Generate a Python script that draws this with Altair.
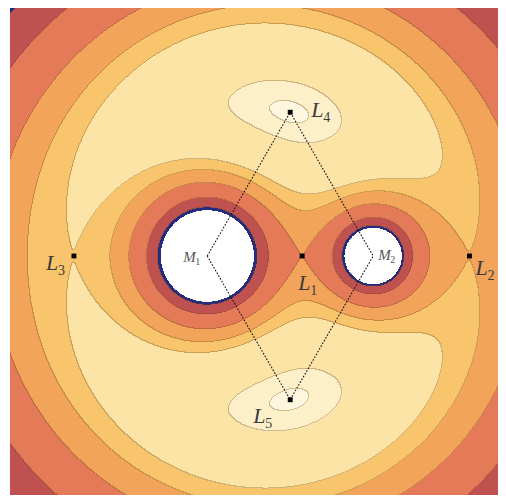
import numpy as np
import pandas as pd
import altair as alt

alt.data_transformers.disable_max_rows()

# ---- data ----
MU = 0.33                      # mass ratio M2/(M1+M2)
LEVELS = [-2.84, -2.70, -2.33, -1.972, -1.774, -1.659, -1.425, -1.394]
BANDS = ["navy", "darkred", "coral", "orange", "lightorange", "pale", "cream", "lightest"]
BAND_COLORS = ["#252b7e", "#bf5250", "#e57a58", "#f2a45a", "#f8c46c", "#fce3a6", "#fdf0c9", "#fef6de"]

L_NAMES = ["1", "2", "3", "4", "5"]
L_X = [0.242, 1.250, -1.133, 0.170, 0.170]
L_Y = [0.0, 0.0, 0.0, 0.866, -0.866]
M_NAMES = ["1", "2"]
M_X = [-0.33, 0.67]
M_Y = [0.0, 0.0]

X_DOMAIN = [-1.518, 1.470]
Y_DOMAIN = [-1.488, 1.518]
W, H = 496, 499

# ---- effective potential field on a pixel grid ----
x0, x1 = X_DOMAIN
y0, y1 = Y_DOMAIN
dx = (x1 - x0) / W
dy = (y1 - y0) / H
xs = x0 + (np.arange(W) + 0.5) * dx
ys = y1 - (np.arange(H) + 0.5) * dy
XX, YY = np.meshgrid(xs, ys)
r1 = np.hypot(XX + MU, YY)
r2 = np.hypot(XX - (1 - MU), YY)
phi = -(1 - MU) / r1 - MU / r2 - 0.5 * (XX ** 2 + YY ** 2)
band = np.digitize(phi, LEVELS)  # 0 -> inside bodies (left white)

fill_rows = []
edge_rows = []
edge = np.zeros_like(band, dtype=bool)
h = (band[:, :-1] != band[:, 1:]) & (band[:, :-1] > 0) & (band[:, 1:] > 0)
edge[:, :-1] |= h
v = (band[:-1, :] != band[1:, :]) & (band[:-1, :] > 0) & (band[1:, :] > 0)
edge[:-1, :] |= v

for j in range(H):
    ytop = y1 - j * dy
    ybot = y1 - (j + 1) * dy
    b = band[j]
    ch = np.flatnonzero(np.diff(b)) + 1
    starts = np.concatenate([[0], ch])
    ends = np.concatenate([ch, [W]])
    for s, e in zip(starts, ends):
        if b[s] > 0:
            fill_rows.append((x0 + s * dx, x0 + e * dx, ybot, ytop, BANDS[b[s] - 1]))
    ed = edge[j].astype(int)
    d = np.diff(np.concatenate([[0], ed, [0]]))
    es = np.flatnonzero(d == 1)
    ee = np.flatnonzero(d == -1)
    for s, e in zip(es, ee):
        edge_rows.append((x0 + s * dx, x0 + e * dx, ybot, ytop))

fill_df = pd.DataFrame(fill_rows, columns=["xa", "xb", "ya", "yb", "band"])
edge_df = pd.DataFrame(edge_rows, columns=["xa", "xb", "ya", "yb"])

xsc = alt.Scale(domain=X_DOMAIN, nice=False, zero=False)
ysc = alt.Scale(domain=Y_DOMAIN, nice=False, zero=False)

fills = alt.Chart(fill_df).mark_rect(strokeWidth=0, opacity=1).encode(
    x=alt.X("xa:Q", scale=xsc, axis=None),
    x2="xb:Q",
    y=alt.Y("ya:Q", scale=ysc, axis=None),
    y2="yb:Q",
    color=alt.Color("band:N", scale=alt.Scale(domain=BANDS, range=BAND_COLORS), legend=None),
)

edges = alt.Chart(edge_df).mark_rect(strokeWidth=0, color="#6a4a1c", opacity=0.32).encode(
    x=alt.X("xa:Q", scale=xsc, axis=None),
    x2="xb:Q",
    y=alt.Y("ya:Q", scale=ysc, axis=None),
    y2="yb:Q",
)

# rhombus M1 - L4 - M2 - L5 - M1
rh_df = pd.DataFrame({
    "x": [M_X[0], L_X[3], M_X[1], L_X[4], M_X[0]],
    "y": [M_Y[0], L_Y[3], M_Y[1], L_Y[4], M_Y[0]],
    "o": [0, 1, 2, 3, 4],
})
rhombus = alt.Chart(rh_df).mark_line(color="#111111", strokeWidth=1.1, strokeDash=[1.6, 1.6]).encode(
    x=alt.X("x:Q", scale=xsc, axis=None),
    y=alt.Y("y:Q", scale=ysc, axis=None),
    order="o:Q",
)

lp_df = pd.DataFrame({"x": L_X, "y": L_Y, "name": L_NAMES})
pts = alt.Chart(lp_df).mark_square(size=24, color="black", opacity=1).encode(
    x=alt.X("x:Q", scale=xsc, axis=None),
    y=alt.Y("y:Q", scale=ysc, axis=None),
)

FONT = "Liberation Serif"
L_OFFSETS = {"1": (-4, 34), "2": (6, 19), "3": (-28, 14), "4": (21, 5), "5": (-37, 23)}
layers = [fills, edges, rhombus, pts]
for i, nm in enumerate(L_NAMES):
    ddx, ddy = L_OFFSETS[nm]
    d = pd.DataFrame({"x": [L_X[i]], "y": [L_Y[i]], "t": ["L"], "s": [nm]})
    layers.append(alt.Chart(d).mark_text(font=FONT, fontStyle="italic", fontSize=22, color="#3a3a3a",
                                         align="left", baseline="alphabetic", dx=ddx, dy=ddy).encode(
        x=alt.X("x:Q", scale=xsc, axis=None), y=alt.Y("y:Q", scale=ysc, axis=None), text="t:N"))
    layers.append(alt.Chart(d).mark_text(font=FONT, fontSize=14, color="#3a3a3a",
                                         align="left", baseline="alphabetic", dx=ddx + 12, dy=ddy + 5).encode(
        x=alt.X("x:Q", scale=xsc, axis=None), y=alt.Y("y:Q", scale=ysc, axis=None), text="s:N"))

M_OFFSETS = {"1": (-24, 6), "2": (5, 4)}
for i, nm in enumerate(M_NAMES):
    ddx, ddy = M_OFFSETS[nm]
    d = pd.DataFrame({"x": [M_X[i]], "y": [M_Y[i]], "t": ["M"], "s": [nm]})
    layers.append(alt.Chart(d).mark_text(font=FONT, fontStyle="italic", fontSize=15, color="#555555",
                                         align="left", baseline="alphabetic", dx=ddx, dy=ddy).encode(
        x=alt.X("x:Q", scale=xsc, axis=None), y=alt.Y("y:Q", scale=ysc, axis=None), text="t:N"))
    layers.append(alt.Chart(d).mark_text(font=FONT, fontSize=10, color="#555555",
                                         align="left", baseline="alphabetic", dx=ddx + 12, dy=ddy + 3).encode(
        x=alt.X("x:Q", scale=xsc, axis=None), y=alt.Y("y:Q", scale=ysc, axis=None), text="s:N"))

chart = alt.layer(*layers).properties(
    width=W, height=H,
    padding={"left": 2, "top": -4, "right": -8, "bottom": -8},
    autosize=alt.AutoSizeParams(type="none"),
    background="white",
).configure_view(stroke=None)

chart.save("out.html", embed_options={"renderer": "svg", "actions": False})
